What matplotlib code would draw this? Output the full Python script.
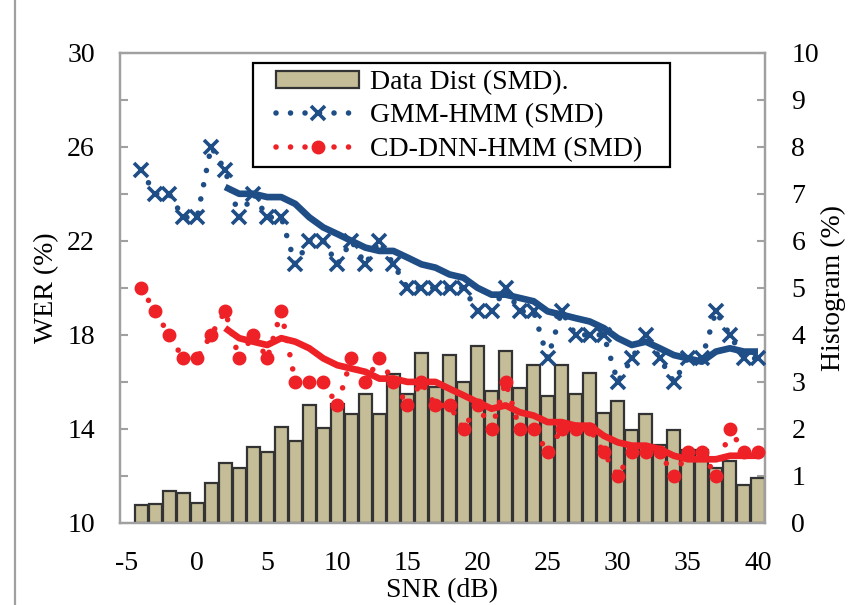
import matplotlib
matplotlib.use("Agg")
import matplotlib.pyplot as plt
from matplotlib.patches import Rectangle, Patch
from matplotlib.lines import Line2D

plt.rcParams['font.family'] = ['Liberation Serif', 'DejaVu Serif']
plt.rcParams['font.size'] = 20

# ---- data ----
snr = list(range(-4, 41))
hist = [0.38, 0.40, 0.68, 0.64, 0.43, 0.84, 1.28, 1.18, 1.62, 1.52,
        2.05, 1.75, 2.50, 2.03, 2.52, 2.31, 2.74, 2.32, 3.16, 2.74,
        3.62, 2.89, 3.57, 3.00, 3.76, 2.81, 3.66, 2.86, 3.35, 2.70,
        3.37, 2.74, 3.18, 2.33, 2.60, 1.98, 2.32, 1.66, 1.98, 1.56,
        1.56, 1.16, 1.31, 0.81, 0.95]
gmm = [25, 24, 24, 23, 23, 26, 25, 23, 24, 23,
       23, 21, 22, 22, 21, 22, 21, 22, 21, 20,
       20, 20, 20, 20, 19, 19, 20, 19, 19, 17,
       19, 18, 18, 18, 16, 17, 18, 17, 16, 17,
       17, 19, 18, 17, 17]
dnn = [20, 19, 18, 17, 17, 18, 19, 17, 18, 17,
       19, 16, 16, 16, 15, 17, 16, 17, 16, 15,
       16, 15, 15, 14, 15, 14, 16, 14, 14, 13,
       14, 14, 14, 13, 12, 13, 13, 13, 12, 13,
       13, 12, 14, 13, 13]
trend_snr = list(range(2, 41))
gmm_trend = [24.29, 24.00, 24.00, 23.86, 23.86, 23.57, 23.00, 22.57, 22.29, 22.00,
             21.71, 21.57, 21.57, 21.29, 21.00, 20.86, 20.57, 20.43, 20.00, 19.71,
             19.71, 19.57, 19.43, 19.00, 18.86, 18.71, 18.57, 18.29, 17.86, 17.57,
             17.71, 17.43, 17.14, 17.00, 16.86, 17.29, 17.43, 17.29, 17.29]
dnn_trend = [18.29, 17.86, 17.71, 17.57, 17.86, 17.71, 17.43, 17.00, 16.71, 16.57,
             16.43, 16.14, 16.14, 16.00, 16.00, 16.00, 15.71, 15.43, 15.14, 14.86,
             15.00, 14.71, 14.57, 14.29, 14.29, 14.14, 14.14, 13.71, 13.43, 13.29,
             13.29, 13.14, 12.86, 12.71, 12.71, 12.71, 12.86, 12.86, 12.86]
xticks = [-5, 0, 5, 10, 15, 20, 25, 30, 35, 40]

W, H = 854, 605
fig = plt.figure(figsize=(W / 100, H / 100), dpi=100)
L, R, T, B = 120, 765, 52.7, 523
axh = fig.add_axes([L / W, 1 - B / H, (R - L) / W, (B - T) / H])
axw = axh.twinx()

BAR = '#C4BD97'
BLUE = '#1F4E87'
RED = '#EE2127'
GRAY = '#A0A0A0'

axh.bar(snr, hist, width=0.93, color=BAR, edgecolor='#333333', linewidth=1.6, zorder=2)
axh.set_ylim(0, 10)
axh.set_xlim(-5.5, 40.5)
axh.set_yticks(range(0, 11))
axh.yaxis.tick_right()
axh.yaxis.set_label_position('right')
axh.set_ylabel('Histogram (%)', labelpad=1)

axw.yaxis.tick_left()
axw.yaxis.set_label_position('left')
axw.set_ylim(10, 30)
axw.set_yticks([10, 14, 18, 22, 26, 30])
axw.set_yticks([12, 16, 20, 24, 28], minor=True)
axw.set_ylabel('WER (%)', labelpad=6)

dot_ls = (0, (0.01, 2.6))
axw.plot(snr, gmm, color=BLUE, lw=4.0, linestyle=dot_ls, dash_capstyle='round',
         marker='x', ms=10, mew=2.6, mec=BLUE, zorder=4)
axw.plot(snr, dnn, color=RED, lw=4.0, linestyle=dot_ls, dash_capstyle='round',
         marker='o', ms=9, mec=RED, mfc=RED, zorder=4)
axw.plot(trend_snr, gmm_trend, color=BLUE, lw=4.8, solid_capstyle='butt', zorder=5)
axw.plot(trend_snr, dnn_trend, color=RED, lw=4.8, solid_capstyle='butt', zorder=5)

axh.set_xticks(xticks)
axh.set_xticklabels([str(v) for v in xticks])
axh.set_xlabel('SNR (dB)', labelpad=2)
axh.tick_params(axis='x', length=0, pad=20)
axh.tick_params(axis='y', direction='in', length=6, width=1.5, color=GRAY, pad=19)
axw.tick_params(axis='y', which='both', direction='in', length=6, width=1.5, color=GRAY, pad=18)

for a in (axh, axw):
    for s in a.spines.values():
        s.set_color(GRAY)
        s.set_linewidth(1.6)

# legend (figure-level, drawn above a white framed box)
h_bar = Patch(facecolor=BAR, edgecolor='#333333', linewidth=1.6)
h_gmm = Line2D([], [], color=BLUE, lw=4.0, linestyle=dot_ls, dash_capstyle='round',
               marker='x', ms=10, mew=2.6)
h_dnn = Line2D([], [], color=RED, lw=4.0, linestyle=dot_ls, dash_capstyle='round',
               marker='o', ms=9)
fig.patches.append(Rectangle((253 / W, 1 - 167 / H), (670 - 253) / W, (167 - 63) / H,
                             transform=fig.transFigure, fill=True, facecolor='white',
                             edgecolor='black', linewidth=1.6, zorder=10))
leg = fig.legend([h_bar, h_gmm, h_dnn],
                 ['Data Dist (SMD).', 'GMM-HMM (SMD)', 'CD-DNN-HMM (SMD)'],
                 loc='upper left', bbox_to_anchor=(276 / W, 1 - 70 / H),
                 bbox_transform=fig.transFigure, frameon=False, borderpad=0,
                 borderaxespad=0, handlelength=3.0, handleheight=0.55,
                 handletextpad=0.4, labelspacing=0.3, fontsize=20, numpoints=1)
leg.set_zorder(11)
fig.lines.append(Line2D([15 / W, 15 / W], [0, 1], transform=fig.transFigure,
                        color=GRAY, lw=1.6))

fig.savefig('out.png', dpi=100)
